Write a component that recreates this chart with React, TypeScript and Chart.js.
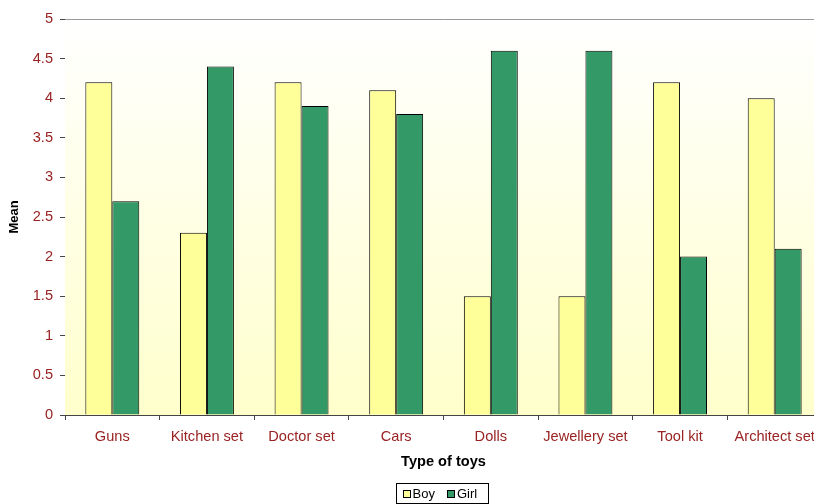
import React, { useEffect, useRef } from "react";
import { Chart, registerables } from "chart.js";

Chart.register(...registerables);

const categories = ["Guns", "Kitchen set", "Doctor set", "Cars", "Dolls", "Jewellery set", "Tool kit", "Architect set"];
const boyValues = [4.2, 2.3, 4.2, 4.1, 1.5, 1.5, 4.2, 4.0];
const girlValues = [2.7, 4.4, 3.9, 3.8, 4.6, 4.6, 2.0, 2.1];
const yTickLabels = ["0", "0.5", "1", "1.5", "2", "2.5", "3", "3.5", "4", "4.5", "5"];
const seriesNames = ["Boy", "Girl"];
const seriesColors = ["#FFFF99", "#339966"];

const FONT = "'Liberation Sans', Arial, sans-serif";
const LABEL_COLOR = "#992222";
const AXIS_COLOR = "#444444";

const bgPlugin = {
  id: "bgPlugin",
  beforeDatasetsDraw(chart: any) {
    const { ctx, chartArea } = chart;
    if (!chartArea) return;
    const g = ctx.createLinearGradient(0, chartArea.top, 0, chartArea.bottom);
    g.addColorStop(0, "#FFFFFF");
    g.addColorStop(1, "#FFFFCC");
    ctx.save();
    ctx.fillStyle = g;
    ctx.fillRect(chartArea.left, chartArea.top, chartArea.right - chartArea.left, chartArea.bottom - chartArea.top);
    ctx.strokeStyle = "#999999";
    ctx.lineWidth = 1;
    ctx.beginPath();
    ctx.moveTo(chartArea.left, chartArea.top + 0.5);
    ctx.lineTo(chartArea.right, chartArea.top + 0.5);
    ctx.stroke();
    ctx.restore();
  },
};

const legendPlugin = {
  id: "boxLegend",
  afterDraw(chart: any) {
    const ctx = chart.ctx;
    const datasets = chart.data.datasets;
    ctx.save();
    ctx.font = `13px ${FONT}`;
    const sq = 7;
    const gapText = 3;
    const gapItem = 12;
    const padL = 6;
    const padR = 11;
    const widths = datasets.map((d: any) => ctx.measureText(d.label).width);
    let inner = 0;
    widths.forEach((w: number, i: number) => {
      inner += sq + gapText + w + (i < widths.length - 1 ? gapItem : 0);
    });
    const boxW = padL + inner + padR;
    const left = Math.round(chart.width / 2 - boxW / 2) + 0.5;
    const top = 483.5;
    const bottom = 503.5;
    ctx.fillStyle = "#FFFFFF";
    ctx.fillRect(left, top, boxW, bottom - top);
    ctx.strokeStyle = "#000000";
    ctx.lineWidth = 1;
    ctx.strokeRect(left, top, Math.round(boxW), bottom - top);
    const cy = (top + bottom) / 2;
    let x = left + padL;
    datasets.forEach((d: any, i: number) => {
      const sx = Math.round(x) + 0.5;
      const sy = Math.round(cy - sq / 2) + 0.5;
      ctx.fillStyle = d.backgroundColor;
      ctx.fillRect(sx, sy, sq, sq);
      ctx.strokeStyle = "#000000";
      ctx.strokeRect(sx, sy, sq, sq);
      x += sq + gapText;
      ctx.fillStyle = "#000000";
      ctx.textBaseline = "middle";
      ctx.textAlign = "left";
      ctx.fillText(d.label, x, cy + 1);
      x += widths[i] + gapItem;
    });
    ctx.restore();
  },
};

export default function App() {
  const ref = useRef<HTMLCanvasElement>(null);
  useEffect(() => {
    if (!ref.current) return;
    const chart = new Chart(ref.current, {
      type: "bar",
      data: {
        labels: categories,
        datasets: [
          {
            label: seriesNames[0],
            data: boyValues,
            backgroundColor: seriesColors[0],
            borderColor: "#000000",
            borderWidth: 1,
            categoryPercentage: 0.57,
            barPercentage: 1.0,
          },
          {
            label: seriesNames[1],
            data: girlValues,
            backgroundColor: seriesColors[1],
            borderColor: "#000000",
            borderWidth: 1,
            categoryPercentage: 0.57,
            barPercentage: 1.0,
          },
        ],
      },
      options: {
        responsive: false,
        animation: false,
        devicePixelRatio: 1,
        layout: { padding: { left: 7, right: 62, top: 19, bottom: 33 } },
        plugins: {
          legend: { display: false },
          tooltip: { enabled: false },
        },
        scales: {
          x: {
            afterFit: (scale: any) => {
              scale.height = 56;
            },
            grid: { display: true, drawOnChartArea: false, drawTicks: true, tickLength: 5, color: AXIS_COLOR, offset: true },
            border: { display: true, color: AXIS_COLOR, width: 1 },
            ticks: { color: LABEL_COLOR, font: { family: FONT, size: 14.6 }, padding: 8, maxRotation: 0, autoSkip: false },
            title: {
              display: true,
              text: "Type of toys",
              color: "#000000",
              font: { family: FONT, size: 14.6, weight: "bold" },
              padding: { top: 0, bottom: 0 },
            },
          },
          y: {
            min: 0,
            max: 5,
            afterFit: (scale: any) => {
              scale.width = 58;
            },
            grid: { display: true, drawOnChartArea: false, drawTicks: true, tickLength: 5, color: AXIS_COLOR },
            border: { display: true, color: AXIS_COLOR, width: 1 },
            ticks: {
              stepSize: 0.5,
              color: LABEL_COLOR,
              font: { family: FONT, size: 14.6 },
              padding: 7,
              callback: (_v: any, i: number) => yTickLabels[i],
            },
            title: {
              display: true,
              text: "Mean",
              color: "#000000",
              font: { family: FONT, size: 13, weight: "bold" },
              padding: { top: 0, bottom: 4 },
            },
          },
        },
      },
      plugins: [bgPlugin, legendPlugin],
    });
    return () => chart.destroy();
  }, []);
  return (
    <div style={{ position: "fixed", left: 0, top: 0, width: 814, height: 504, overflow: "hidden", background: "#fff" }}>
      <canvas ref={ref} width={884} height={504} style={{ width: 884, height: 504, display: "block" }} />
    </div>
  );
}
